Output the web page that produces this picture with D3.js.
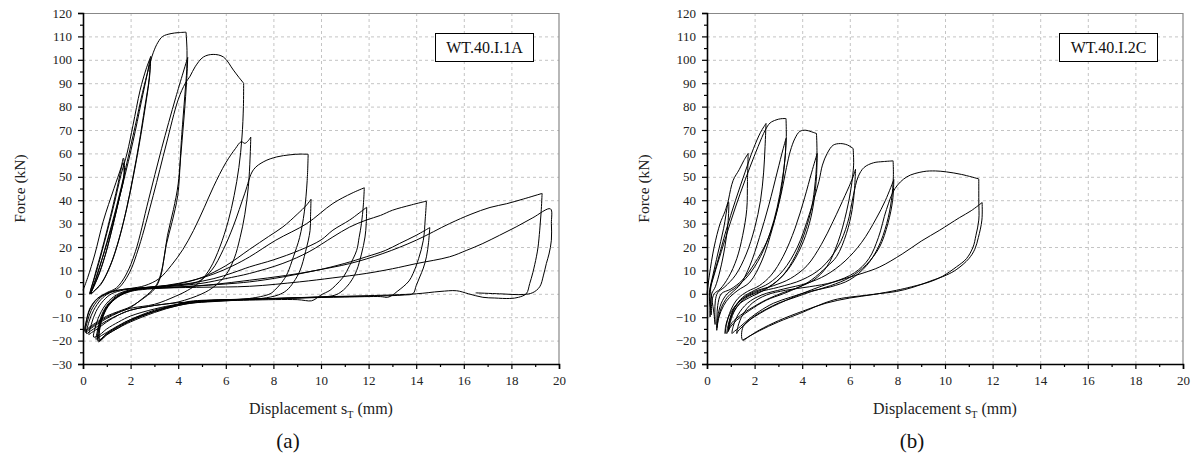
<!DOCTYPE html>
<html><head><meta charset="utf-8">
<script src="https://cdn.jsdelivr.net/npm/d3@7"></script>
<style>body{margin:0;background:#fff} text{font-family:'Liberation Serif','Times New Roman',serif}</style>
</head><body>
<svg id="c" width="1196" height="456"></svg>
<script>
// ---------- tick labels ----------
const xTicks = [0,2,4,6,8,10,12,14,16,18,20];
const xMinor = [1,3,5,7,9,11,13,15,17,19];
const yTicks = [-30,-20,-10,0,10,20,30,40,50,60,70,80,90,100,110,120];
const yMinor = [-25,-15,-5,5,15,25,35,45,55,65,75,85,95,105,115];
const specimens = ["WT.40.I.1A","WT.40.I.2C"];
const captions = ["(a)","(b)"];

// ---------- panel (a): displacement sT (mm), force (kN) ----------
const a01 = [[0,1.5],[0.2,7],[0.5,17],[0.85,31],[1.3,45],[1.6,54],[1.7,58],[1.74,52],[1.55,42],[1.3,31],[1.0,19],[0.7,9],[0.45,3],[0.3,0],[0.5,8],[0.8,19],[1.15,33],[1.45,46],[1.68,56],[1.72,50],[1.5,40],[1.25,29],[0.95,17],[0.65,8],[0.4,2],[0.28,0],[0.55,9],[0.9,22],[1.3,38],[1.6,51],[1.85,60],[2.1,72],[2.4,87],[2.65,96],[2.85,101.5]];
const a02 = [[2.85,101.5],[2.8,93],[2.65,82],[2.4,66],[2.15,52],[1.85,37],[1.5,23],[1.15,12],[0.8,5],[0.5,1.5],[0.33,0],[0.55,7],[0.9,18],[1.3,32],[1.7,48],[2.1,65],[2.45,82],[2.7,94],[2.82,100],[2.78,92],[2.6,80],[2.35,64],[2.1,50],[1.8,35],[1.45,21],[1.1,11],[0.75,4],[0.45,1],[0.35,0],[0.6,8],[1.0,22],[1.4,37],[1.8,54],[2.2,72],[2.5,86],[2.75,96],[2.95,103],[3.15,107.5],[3.35,110],[3.7,111.2],[4.0,111.6],[4.33,111.8]];
const a03 = [[4.33,111.8],[4.37,104],[4.36,96],[4.28,85],[4.15,68],[4.0,47],[3.8,36],[3.55,25],[3.4,15],[3.25,7],[3.0,2],[2.6,-1.5],[2.0,-5.5],[1.5,-7.5],[1.0,-9.5],[0.6,-12],[0.3,-14],[0.1,-15.5],[0.15,-11],[0.3,-6],[0.6,-2],[1.0,0.5],[1.4,2.5],[1.8,8],[2.2,18],[2.75,40],[3.3,62],[3.9,84],[4.4,101]];
const a04 = [[4.4,101],[4.36,92],[4.25,76],[4.1,58],[3.98,42],[3.75,31],[3.5,21],[3.35,12],[3.15,5],[2.9,1.5],[2.5,-2],[2.0,-5.8],[1.5,-7.8],[1.0,-10],[0.6,-12.5],[0.3,-14.5],[0.08,-16],[0.15,-11.5],[0.3,-6.5],[0.6,-2.2],[1.1,0.5],[1.5,2.5],[1.95,9],[2.35,20],[2.95,42],[3.5,64],[4.0,83],[4.3,90],[4.5,93],[4.71,97],[5.06,101.2],[5.47,102.3],[5.9,101.2],[6.32,95.6],[6.55,92.5],[6.75,90]];
const a05 = [[6.75,90],[6.74,80],[6.68,67],[6.55,54],[6.35,42],[6.1,31],[5.75,20],[5.35,11],[4.9,5],[4.4,1.5],[3.9,-1],[3.0,-4.5],[2.0,-6.2],[1.5,-8],[1.0,-10.5],[0.6,-13],[0.3,-15],[0.1,-16.5],[0.18,-12],[0.35,-7],[0.65,-2.5],[1.0,0.2],[1.5,1.6],[2.0,2.3],[2.6,3.5],[3.2,6.5],[3.7,12],[4.2,19],[4.64,27],[5.1,37],[5.48,45.7],[6.0,56],[6.4,62],[6.65,65],[6.8,64.3],[6.95,65.5],[7.05,67]];
const a06 = [[7.05,67],[7.02,58],[6.95,46],[6.8,34],[6.6,24],[6.35,15],[6.0,8],[5.5,3],[5.0,0],[4.0,-3.5],[3.0,-5],[2.0,-7],[1.5,-9],[1.0,-11.5],[0.6,-14],[0.3,-16],[0.15,-17],[0.25,-12],[0.45,-7],[0.75,-2.5],[1.1,0.3],[1.6,1.7],[2.1,2.3],[3.0,3],[4.0,3.8],[4.8,5],[5.4,10],[5.9,19],[6.32,29],[6.8,43],[7.16,53],[7.6,56.5],[8.14,58.5],[8.7,59.4],[9.12,59.7],[9.46,59.6]];
const a07 = [[9.46,59.6],[9.42,48.5],[9.3,35],[9.1,24],[8.84,15.8],[8.6,9],[8.42,5.8],[8.1,2],[7.86,0],[7.0,-2],[6.0,-2.8],[5.0,-3.3],[4.0,-3.8],[3.0,-5],[2.0,-7],[1.5,-9],[1.0,-12],[0.6,-15],[0.3,-17],[0.25,-17.5],[0.35,-13],[0.55,-7.5],[0.85,-3],[1.2,0],[1.7,1.6],[2.2,2.3],[3.0,3],[4.0,4.2],[5.0,7],[6.0,12],[7.0,19],[7.8,24.5],[8.4,28.6],[9.0,34],[9.4,38],[9.58,40.4]];
const a08 = [[9.58,40.4],[9.56,33],[9.54,27],[9.35,18],[9.12,10],[8.85,5],[8.56,1.5],[8.2,-0.5],[7.5,-2],[6.0,-3],[4.0,-4.5],[3.0,-6.5],[2.0,-9.5],[1.5,-12],[1.0,-15],[0.7,-17.5],[0.45,-18.5],[0.5,-15],[0.7,-9],[1.0,-4],[1.4,-0.5],[1.9,1.5],[2.5,2.5],[3.5,3.6],[4.5,5.5],[5.5,8.5],[6.3,12],[7.0,15.8],[8.1,22.9],[9.4,30],[10.5,38.6],[11.3,43],[11.82,45.3]];
const a09 = [[11.82,45.3],[11.78,38],[11.7,30],[11.6,24],[11.5,18.6],[11.2,12],[10.94,7.2],[10.6,3.5],[10.38,1.5],[10.0,-0.5],[9.8,-2],[9.6,-3],[9.0,-2.5],[7.0,-2.7],[5.0,-3.5],[4.0,-5],[3.0,-7.5],[2.0,-11],[1.5,-13.5],[1.0,-16.5],[0.6,-19],[0.55,-19.5],[0.6,-16],[0.75,-10],[1.0,-5],[1.4,-1],[1.9,1.3],[2.5,2.3],[3.5,3.2],[4.5,4.5],[5.5,6.5],[6.3,9],[7.0,11.5],[8.0,14.5],[9.1,18.6],[10.0,23],[10.5,27.2],[11.2,31.5],[11.6,34.5],[11.92,37]];
const a10 = [[11.92,37],[11.9,30],[11.85,24.3],[11.7,17],[11.5,10],[11.3,6],[11.08,3],[10.8,0.5],[10.5,-0.8],[9.0,-1.8],[7.0,-2.3],[5.0,-3],[4.0,-4.5],[3.0,-7.5],[2.0,-11.5],[1.5,-14],[1.0,-17],[0.65,-20],[0.62,-17],[0.75,-11],[1.0,-5.5],[1.4,-1.5],[1.9,1],[2.5,2.2],[3.5,3],[5.0,4.5],[6.0,6.5],[7.0,8.7],[8.4,13],[9.5,18],[10.5,24.3],[11.2,28.5],[11.9,31.5],[12.5,33.5],[13.0,35.7],[13.8,38],[14.43,39.6]];
const a11 = [[14.43,39.6],[14.38,32],[14.3,22.9],[14.1,15],[13.87,8.7],[13.7,5.5],[13.45,3],[13.2,1],[13.0,-0.6],[12.8,-1.5],[12.5,-1.2],[11.0,-1.4],[9.0,-1.8],[7.0,-2.3],[5.0,-3.2],[4.0,-5],[3.0,-8],[2.0,-12],[1.5,-14.5],[1.0,-17.5],[0.7,-20],[0.68,-17],[0.8,-11],[1.05,-5.5],[1.45,-1.5],[2.0,1],[2.7,2],[4.0,2.8],[5.5,4],[7.0,5.8],[8.5,7.8],[9.8,10],[11.0,13],[11.9,15.8],[12.7,18.5],[13.3,21.5],[14.0,25],[14.57,28.3]];
const a12 = [[14.57,28.3],[14.52,22],[14.43,15.8],[14.3,11],[14.15,7.2],[14.0,3.5],[13.87,0.1],[13.5,-0.5],[12.0,-1],[10.0,-1.4],[8.0,-2],[6.0,-2.6],[4.5,-3.4],[4.0,-4.5],[3.0,-7.5],[2.0,-11.5],[1.5,-14.5],[1.0,-17.5],[0.65,-20.5],[0.63,-17],[0.78,-10.5],[1.05,-5],[1.5,-1],[2.1,1.5],[3.0,2.5],[4.5,3.2],[6.0,4.2],[7.0,5.1],[8.4,7.2],[9.8,10],[11.2,12.9],[12.6,17.2],[14.0,22.9],[15.4,30],[16.3,34],[17.1,36.9],[17.8,38.5],[18.5,40.5],[19.29,42.9]];
const a13 = [[19.29,42.9],[19.25,35],[19.19,27.2],[19.12,20],[19.05,15.8],[18.9,9],[18.77,4.4],[18.63,0.1],[18.3,-1.5],[17.93,-2],[17.3,-1.8],[16.8,-1.5],[16.2,0],[15.7,1.3],[15.0,1],[14.0,0],[12.0,-0.8],[10.0,-1.3],[8.0,-2],[6.0,-2.5],[4.5,-3.2],[4.0,-4.5],[3.0,-7],[2.0,-11],[1.5,-13.8],[1.0,-17],[0.7,-19.5],[0.68,-16],[0.82,-10],[1.1,-4.5],[1.55,-0.5],[2.2,1.8],[3.2,2.4],[5.0,2.8],[7.0,3.2],[9.1,5.1],[10.5,6.8],[11.9,8.7],[13.0,10.7],[14.0,12.9],[15.4,15.8],[16.1,18.5],[16.8,21.5],[17.5,25],[18.2,28.6],[18.9,32.5],[19.64,36.3],[19.68,30],[19.68,22.9],[19.58,17],[19.47,13],[19.35,8],[19.19,3],[18.9,0.5],[18.5,-0.3],[17.5,0],[16.5,0.4]];

// ---------- panel (b) ----------
const b01 = [[0,0],[0.1,8],[0.3,20],[0.55,30],[0.75,35],[0.9,39.3],[0.88,30],[0.75,20],[0.55,10],[0.35,3],[0.2,0],[0.15,-5],[0.13,-9.9],[0.12,-6],[0.1,-1],[0.12,2],[0.25,8],[0.45,17],[0.7,28],[0.9,40],[1.1,48.5],[1.35,53],[1.55,57],[1.73,60]];
const b02 = [[1.73,60],[1.7,48],[1.67,36],[1.5,25],[1.25,15],[0.9,7],[0.55,2],[0.3,0],[0.2,-4],[0.18,-9],[0.15,-4],[0.12,1],[0.2,5],[0.45,14],[0.8,27],[1.2,40],[1.6,52],[1.95,62],[2.25,69],[2.48,72.8]];
const b03 = [[2.48,72.8],[2.44,63],[2.38,52],[2.25,40],[2.0,28],[1.65,17],[1.2,8],[0.75,3],[0.45,0.5],[0.35,-3],[0.33,-8],[0.34,-13.1],[0.3,-9],[0.2,-2],[0.15,2],[0.3,8],[0.6,18],[1.0,31],[1.4,43],[1.8,54],[2.15,63],[2.45,70],[2.65,73],[2.9,74.3],[3.1,74.8],[3.32,74.9]];
const b04 = [[3.32,74.9],[3.33,66],[3.25,55],[3.1,43],[2.85,32],[2.5,22],[2.0,13],[1.5,6],[1.0,2],[0.6,0],[0.45,-5],[0.42,-10],[0.41,-15.6],[0.45,-12],[0.6,-6],[0.85,-1.5],[1.1,1],[1.4,4],[1.8,12],[2.2,24],[2.6,38],[2.95,52],[3.2,62],[3.32,66.4]];
const b05 = [[3.32,66.4],[3.28,58],[3.15,48],[2.95,37],[2.65,26],[2.25,16],[1.75,8],[1.25,3],[0.85,0],[0.6,-4],[0.45,-10],[0.42,-14.5],[0.5,-10],[0.7,-5],[0.95,-1.5],[1.3,1.5],[1.8,5],[2.3,14],[2.75,28],[3.1,42],[3.34,54],[3.5,61],[3.7,66.5],[3.9,69.4],[4.15,69.9],[4.4,69.2],[4.6,68.5]];
const b06 = [[4.6,68.5],[4.62,60],[4.55,48],[4.4,37],[4.1,26],[3.7,16],[3.2,8],[2.6,3],[2.0,0.5],[1.6,-1.5],[1.2,-5],[0.9,-10],[0.78,-14],[0.76,-17],[0.82,-13],[1.0,-7],[1.3,-2],[1.7,1],[2.2,3.5],[2.7,8],[3.2,16],[3.7,28],[4.1,41],[4.4,52],[4.63,60]];
const b07 = [[4.63,60],[4.6,50],[4.5,40],[4.3,30],[3.95,20],[3.45,11],[2.9,5],[2.3,1],[1.9,-1],[1.4,-4],[1.1,-8],[0.92,-13],[0.9,-16],[0.95,-12],[1.15,-6],[1.5,-1.5],[2.0,1.5],[2.6,4.5],[3.2,10],[3.8,20],[4.3,34],[4.7,48],[4.85,55],[5.05,60],[5.3,63.5],[5.6,64.2],[5.9,63.6],[6.14,62.1]];
const b08 = [[6.14,62.1],[6.16,55],[6.05,45],[5.86,35],[5.5,22],[5.03,11.5],[4.5,6],[3.9,3],[3.2,0],[2.5,-2.7],[1.8,-7],[1.4,-10],[1.1,-12.7],[0.9,-15.5],[0.83,-17],[0.9,-13],[1.1,-7],[1.5,-2],[2.0,1],[2.8,3.5],[3.5,6.5],[4.2,12],[4.8,21],[5.3,31],[5.8,42],[6.1,49],[6.24,53.2]];
const b09 = [[6.24,53.2],[6.2,45],[6.1,36],[5.86,25.8],[5.45,16],[5.03,11.5],[4.4,6],[3.9,3],[3.2,0.5],[2.5,-2.5],[1.8,-6.5],[1.3,-10],[1.0,-13],[0.9,-16],[0.98,-12],[1.2,-6.5],[1.6,-2],[2.2,0.8],[3.0,2.8],[4.0,6],[4.8,11],[5.5,20],[5.9,30],[6.15,42],[6.35,50],[6.6,54],[7.0,56],[7.4,56.5],[7.82,56.8]];
const b10 = [[7.82,56.8],[7.83,50],[7.75,40],[7.55,30],[7.2,20],[6.7,12],[6.0,6],[5.2,3],[4.3,1],[3.5,-1.5],[2.8,-4],[2.2,-7.5],[1.8,-10.5],[1.4,-14],[1.1,-16.5],[1.05,-17],[1.1,-14],[1.3,-9],[1.7,-4],[2.3,-0.5],[3.2,2],[4.2,4.5],[5.0,8],[5.8,14],[6.5,22],[7.1,32],[7.5,40],[7.85,48.8]];
const b11 = [[7.85,48.8],[7.8,40],[7.6,30],[7.25,20],[6.7,12.5],[6.0,7],[5.2,3.5],[4.4,1],[3.7,-1.5],[3.0,-4],[2.5,-6.5],[2.0,-9.5],[1.6,-13],[1.3,-16],[1.25,-17],[1.3,-14],[1.5,-9],[1.9,-4],[2.5,-0.5],[3.3,1.5],[4.3,3],[5.3,5],[6.2,9],[6.8,15],[7.2,24],[7.54,36],[7.9,45],[8.4,50],[9.08,52.2],[9.6,52.5],[10.06,52.1],[10.7,51],[11.42,49.1]];
const b12 = [[11.42,49.1],[11.42,40],[11.42,31.5],[11.3,25],[11.18,20],[10.9,15],[10.48,11.5],[9.9,7.5],[9.36,5.1],[8.6,3],[7.96,1.5],[7.0,-0.3],[6.0,-1.8],[5.0,-4],[4.0,-7.5],[3.0,-11.5],[2.2,-15.5],[1.8,-18],[1.5,-19.8],[1.52,-14],[2.22,-8.4],[3.34,-2.7],[4.74,3],[5.8,6.5],[6.6,9],[7.26,11.5],[8.2,17],[9.0,22.5],[9.78,27.2],[10.6,32.5],[11.1,35.5],[11.56,39]];
const b13 = [[11.56,39],[11.55,31.5],[11.4,24],[11.25,19],[11.0,15],[10.5,10.5],[10.06,8],[9.4,5.5],[8.66,2.8],[7.96,1.0],[7.26,0.1],[6.7,-0.6],[5.3,-2.7],[3.9,-8.4],[3.0,-12],[2.2,-15.8],[1.5,-19.8]];

const cyclesA = [a01,a02,a03,a04,a05,a06,a07,a08,a09,a10,a11,a12,a13];
const cyclesB = [b01,b02,b03,b04,b05,b06,b07,b08,b09,b10,b11,b12,b13];

// ---------- drawing ----------
const svg = d3.select("#c");
const FONT = "'Liberation Serif','Times New Roman',serif";
const plotTop = 13, plotH = 351, plotW = 476;

function panel(left, cycles, spec, cap) {
  const x = d3.scaleLinear().domain([0,20]).range([0,plotW]);
  const y = d3.scaleLinear().domain([-30,120]).range([plotH,0]);
  const g = svg.append("g").attr("transform", `translate(${left},${plotTop})`);

  // grid
  g.append("g").selectAll("line").data(xTicks.filter(v=>v>0 && v<20)).join("line")
    .attr("x1",d=>x(d)+0.5).attr("x2",d=>x(d)+0.5).attr("y1",0).attr("y2",plotH)
    .attr("stroke","#c4c4c4").attr("stroke-width",1).attr("stroke-dasharray","3,3");
  g.append("g").selectAll("line").data(yTicks.filter(v=>v>-30 && v<120)).join("line")
    .attr("y1",d=>y(d)+0.5).attr("y2",d=>y(d)+0.5).attr("x1",0).attr("x2",plotW)
    .attr("stroke","#c4c4c4").attr("stroke-width",1).attr("stroke-dasharray","3,3");

  // frame top/right
  g.append("line").attr("x1",0).attr("x2",plotW).attr("y1",0.5).attr("y2",0.5).attr("stroke","#888").attr("stroke-width",1.2);
  g.append("line").attr("x1",plotW).attr("x2",plotW).attr("y1",0).attr("y2",plotH).attr("stroke","#888").attr("stroke-width",1.2);

  // curves
  const line = d3.line().x(d=>x(d[0])).y(d=>y(d[1])).curve(d3.curveCatmullRom.alpha(0.5));
  g.append("g").selectAll("path").data(cycles).join("path")
    .attr("d", line).attr("fill","none").attr("stroke","#000").attr("stroke-width",1)
    .attr("stroke-linejoin","round");

  // axes
  const ya = g.append("g").call(d3.axisLeft(y).tickValues(yTicks).tickSize(5).tickPadding(6).tickFormat(d3.format("d")));
  const ym = g.append("g").call(d3.axisLeft(y).tickValues(yMinor).tickSize(3).tickFormat(""));
  const xa = g.append("g").attr("transform",`translate(0,${plotH})`).call(d3.axisBottom(x).tickValues(xTicks).tickSize(5).tickPadding(7).tickFormat(d3.format("d")));
  const xm = g.append("g").attr("transform",`translate(0,${plotH})`).call(d3.axisBottom(x).tickValues(xMinor).tickSize(3).tickFormat(""));
  [ya,ym,xa,xm].forEach(a=>{
    a.attr("font-family",null);
    a.select(".domain").attr("stroke","#000").attr("stroke-width",1.6);
    a.selectAll(".tick line").attr("stroke","#000").attr("stroke-width",1.2);
    a.selectAll("text").style("font-family",FONT).style("font-size","13px").attr("fill","#222");
  });
  ym.select(".domain").remove(); xm.select(".domain").remove();

  // axis titles
  g.append("text").attr("transform",`translate(${-58},${plotH/2}) rotate(-90)`)
    .attr("text-anchor","middle").style("font-family",FONT).style("font-size","15.5px").attr("fill","#222")
    .text("Force (kN)");
  const xt = g.append("text").attr("x",plotW/2).attr("y",plotH+50).attr("text-anchor","middle")
    .style("font-family",FONT).style("font-size","16px").attr("fill","#222");
  xt.append("tspan").text("Displacement s");
  xt.append("tspan").style("font-size","10px").attr("dy",4).text("T");
  xt.append("tspan").attr("dy",-4).text(" (mm)");

  // caption
  g.append("text").attr("x",plotW/2-33).attr("y",plotH+84).attr("text-anchor","middle")
    .style("font-family",FONT).style("font-size","21px").attr("fill","#111").text(cap);

  // specimen label box
  const bx = plotW-124, by = 20, bw = 98, bh = 28;
  g.append("rect").attr("x",bx+0.5).attr("y",by+0.5).attr("width",bw).attr("height",bh)
    .attr("fill","#fff").attr("stroke","#000").attr("stroke-width",1);
  g.append("text").attr("x",bx+bw/2+0.5).attr("y",by+bh/2+5.5).attr("text-anchor","middle")
    .style("font-family",FONT).style("font-size","16px").attr("fill","#111").text(spec);
}

panel(83, cyclesA, specimens[0], captions[0]);
panel(707, cyclesB, specimens[1], captions[1]);
</script>
</body></html>
